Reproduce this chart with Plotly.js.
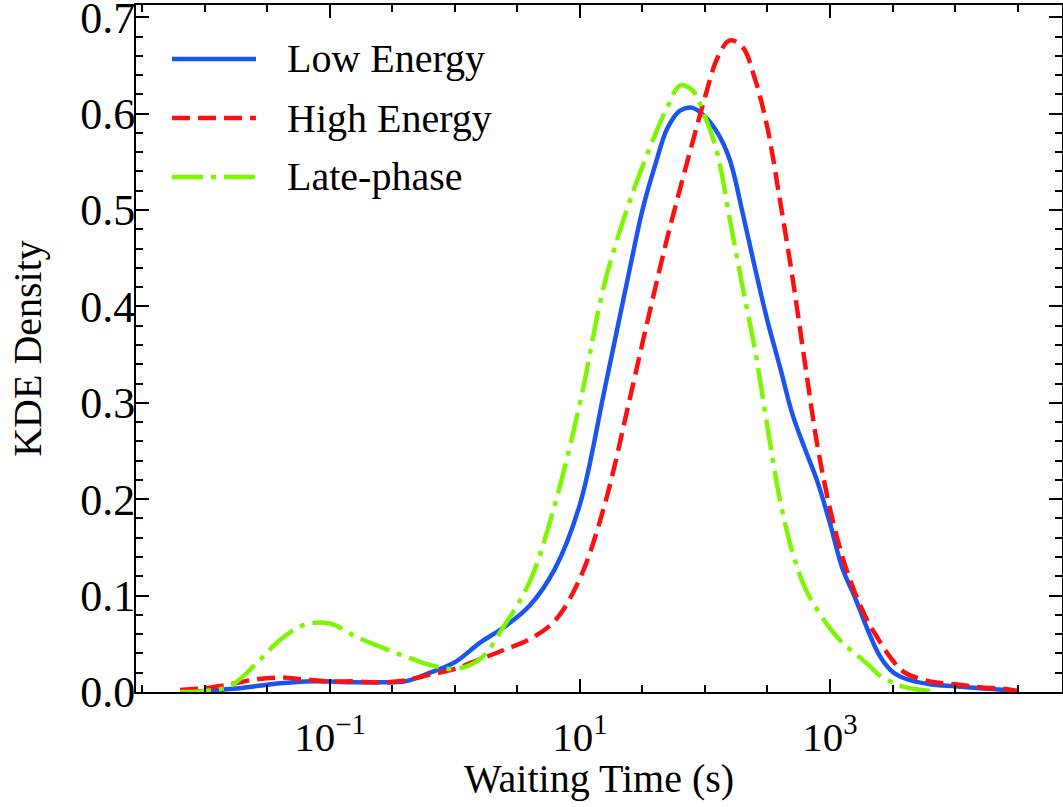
<!DOCTYPE html>
<html>
<head>
<meta charset="utf-8">
<script src="https://cdn.plot.ly/plotly-3.0.1.min.js"></script>
<style>
  html, body { margin: 0; padding: 0; background: #ffffff; }
  #chart { width: 1063px; height: 807px; }
</style>
</head>
<body>
<div id="chart"></div>
<script>
// Waiting time grid (s)
const waitingTime = [0.00631, 0.01, 0.0158, 0.0251, 0.0398, 0.0631, 0.1, 0.158, 0.251, 0.398, 0.631,
  1, 1.58, 2.51, 3.98, 6.31, 10, 15.8, 25.1, 31.6, 39.8, 50.1, 63.1, 79.4, 100, 126, 158, 200, 251,
  316, 398, 501, 631, 794, 1000, 1259, 1585, 1995, 2512, 3162, 3981, 6310, 10000, 15849, 25119, 31623];

const lowEnergy = [0.000, 0.001, 0.003, 0.006, 0.009, 0.011, 0.011, 0.010, 0.010, 0.011, 0.020,
  0.031, 0.051, 0.068, 0.090, 0.128, 0.195, 0.315, 0.440, 0.500, 0.546, 0.585, 0.603, 0.606, 0.597, 0.580, 0.552, 0.497, 0.440,
  0.385, 0.337, 0.288, 0.252, 0.218, 0.175, 0.128, 0.098, 0.065, 0.037, 0.021, 0.014, 0.008, 0.006, 0.004, 0.002, 0.000];

const highEnergy = [0.002, 0.004, 0.008, 0.013, 0.015, 0.013, 0.011, 0.011, 0.010, 0.012, 0.018,
  0.024, 0.034, 0.044, 0.055, 0.074, 0.118, 0.195, 0.305, 0.362, 0.418, 0.472, 0.522, 0.570, 0.617, 0.658, 0.676, 0.669, 0.636,
  0.585, 0.510, 0.430, 0.341, 0.255, 0.190, 0.140, 0.103, 0.074, 0.052, 0.033, 0.020, 0.011, 0.008, 0.005, 0.003, 0.001];

const latePhase = [0.000, 0.001, 0.006, 0.028, 0.054, 0.070, 0.071, 0.058, 0.047, 0.037, 0.028,
  0.024, 0.034, 0.070, 0.115, 0.195, 0.300, 0.425, 0.510, 0.545, 0.578, 0.607, 0.629, 0.624, 0.597, 0.558, 0.490, 0.420, 0.355,
  0.275, 0.199, 0.145, 0.108, 0.085, 0.066, 0.051, 0.040, 0.029, 0.017, 0.010, 0.005, 0.001, null, null, null, null];

const seriesNames = ['Low Energy', 'High Energy', 'Late-phase'];
const xTitle = 'Waiting Time (s)';
const yTitle = 'KDE Density';
const xMajorTicks = [0.1, 10, 1000];
const xMajorLabels = ['10<sup>\u22121</sup>', '10<sup>1</sup>', '10<sup>3</sup>'];
const xMinorTicks = [0.00316, 0.01, 0.0316, 0.316, 1, 3.16, 31.6, 100, 316, 3162, 10000, 31623];

const colors = ['#1a55f2', '#ff1010', '#7cf700'];
const dashes = ['solid', '18px,8px', '31px,8px,5px,8px'];
const lw = 4.5;
const font = 'Liberation Serif, Times New Roman, serif';

const ys = [lowEnergy, highEnergy, latePhase];
const traces = ys.map((y, i) => ({
  x: waitingTime, y: y, type: 'scatter', mode: 'lines', name: seriesNames[i],
  line: { color: colors[i], width: lw, dash: dashes[i], shape: 'spline', smoothing: 1.0 },
  connectgaps: false, showlegend: false
}));

// plot area in pixels: x 136..1062, y 5..692
const L = 136, R = 1062, T = 5, B = 692;
const px = v => (v - L) / (R - L);
const py = v => (B - v) / (B - T);

const shapes = [], annotations = [];
const rows = [59, 118, 177];
for (let i = 0; i < 3; i++) {
  shapes.push({ type: 'line', xref: 'paper', yref: 'paper', x0: px(172), x1: px(256), y0: py(rows[i]), y1: py(rows[i]),
    line: { color: colors[i], width: lw, dash: dashes[i] } });
  annotations.push({ xref: 'paper', yref: 'paper', x: px(285), y: py(rows[i]), xanchor: 'left', yanchor: 'middle',
    text: seriesNames[i], showarrow: false, font: { family: font, size: 40, color: '#000' } });
}
// x-axis title
annotations.push({ xref: 'paper', yref: 'paper', x: 0.5, y: py(778), xanchor: 'center', yanchor: 'middle',
  text: xTitle, showarrow: false, font: { family: font, size: 40, color: '#000' } });

const layout = {
  width: 1063, height: 807,
  margin: { l: L, r: 1063 - R, t: T, b: 807 - B },
  paper_bgcolor: '#fff', plot_bgcolor: '#fff',
  font: { family: font, color: '#000' },
  xaxis: {
    type: 'log', range: [-2.552, 4.856],
    showgrid: false, zeroline: false, showline: true, linecolor: '#000', linewidth: 2, mirror: 'ticks',
    ticks: 'inside', ticklen: 13, tickwidth: 2, tickcolor: '#000',
    tickmode: 'array', tickvals: xMajorTicks, ticktext: xMajorLabels,
    tickfont: { family: font, size: 41, color: '#000' }, ticklabelstandoff: 8, ticklabeloverflow: 'allow',
    minor: { tickmode: 'array', tickvals: xMinorTicks, ticks: 'inside', ticklen: 7, tickwidth: 2, tickcolor: '#000', showgrid: false }
  },
  yaxis: {
    range: [0, 0.7127],
    showgrid: false, zeroline: false, showline: true, linecolor: '#000', linewidth: 2, mirror: 'ticks',
    ticks: 'inside', ticklen: 13, tickwidth: 2, tickcolor: '#000',
    tickmode: 'linear', tick0: 0, dtick: 0.1, tickformat: '.1f',
    tickfont: { family: font, size: 44, color: '#000' }, ticklabelstandoff: -10, ticklabeloverflow: 'allow',
    minor: { tick0: 0, dtick: 0.02, ticks: 'inside', ticklen: 7, tickwidth: 2, tickcolor: '#000', showgrid: false },
    title: { text: yTitle, font: { family: font, size: 40, color: '#000' }, standoff: 26 }
  },
  shapes: shapes,
  annotations: annotations,
  showlegend: false
};

Plotly.newPlot('chart', traces, layout, { displayModeBar: false, staticPlot: true });
</script>
</body>
</html>
